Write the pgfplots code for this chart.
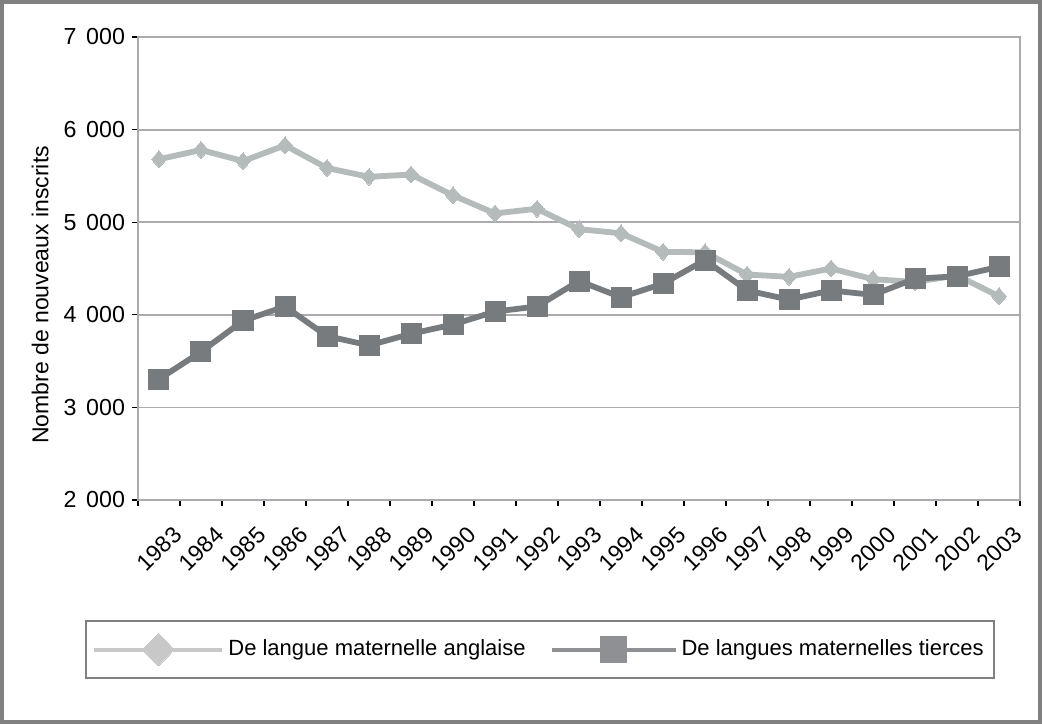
\documentclass[border=0pt]{standalone}
\usepackage{fontspec}
\setmainfont{Liberation Sans}
\usepackage{pgfplots}
\pgfplotsset{compat=1.18}
\definecolor{serA}{RGB}{181,186,186}
\definecolor{serB}{RGB}{120,123,126}
\definecolor{gridc}{RGB}{170,170,175}
\definecolor{framec}{RGB}{128,128,128}
\definecolor{legA}{RGB}{200,200,200}
\definecolor{legB}{RGB}{143,144,148}
\begin{document}
\begin{tikzpicture}
\useasboundingbox (-69pt,-112pt) rectangle (452pt,250pt);
\fill[white] (-69pt,-112pt) rectangle (452pt,250pt);
\draw[framec, line width=2pt] (-68pt,-111pt) rectangle (451pt,249pt);
\begin{axis}[
  scale only axis, width=441pt, height=231.5pt,
  xmin=-0.5, xmax=20.5, ymin=2000, ymax=7000,
  xtick={0,...,20},
  xticklabels={1983,1984,1985,1986,1987,1988,1989,1990,1991,1992,1993,1994,1995,1996,1997,1998,1999,2000,2001,2002,2003},
  minor xtick={-0.5,0.5,...,20.5},
  ytick={2000,3000,4000,5000,6000,7000},
  yticklabels={2\hspace{.42em}000,3\hspace{.42em}000,4\hspace{.42em}000,5\hspace{.42em}000,6\hspace{.42em}000,7\hspace{.42em}000},
  xtick pos=bottom, ytick pos=left,
  tick align=outside,
  major tick length=3pt, minor tick length=3pt,
  major x tick style={draw=none},
  minor x tick style={black, line width=0.6pt},
  major y tick style={black, line width=0.6pt},
  ymajorgrids, grid style={gridc, line width=0.9pt},
  axis line style={gridc, line width=1.2pt},
  yticklabel style={font=\fontsize{11.6}{13}\selectfont},
  xticklabel style={font=\fontsize{11.5}{13}\selectfont, rotate=45, anchor=north east, inner sep=1pt, yshift=-10pt, xshift=-1pt},
  ylabel={Nombre de nouveaux inscrits},
  ylabel style={at={(axis description cs:-0.111,0.443)}, anchor=center, font=\fontsize{11.5}{13}\selectfont},
  legend columns=2,
  legend style={at={(axis description cs:0.4558,-0.3229)}, anchor=center,
    draw=framec, line width=1pt, inner xsep=3pt, inner ysep=6pt,
    font=\fontsize{11}{13}\selectfont,
    /tikz/every even column/.append style={column sep=10pt}},
  clip=false,
]
\addplot[serA, line width=2.9pt, line join=round, mark=diamond*, mark size=4.2pt,
  mark options={xscale=1.2, solid, fill=serA, draw=serA, line width=0pt},
  legend image code/.code={\draw[legA, line width=2pt, mark=diamond*, mark size=8.2pt, mark options={xscale=1.3, fill=legA, draw=legA, line width=0pt}, mark repeat=2, mark phase=2] plot coordinates {(0pt,0pt) (32pt,0pt) (64pt,0pt)};}]
table {
x y
0 5680
1 5780
2 5660
3 5830
4 5585
5 5490
6 5515
7 5290
8 5095
9 5145
10 4925
11 4880
12 4680
13 4675
14 4435
15 4410
16 4500
17 4385
18 4355
19 4425
20 4200
};
\addlegendentry{De langue maternelle anglaise}
\addplot[serB, line width=2.9pt, line join=round, mark=square*, mark size=5pt,
  mark options={solid, fill=serB, draw=serB, line width=0pt},
  legend image code/.code={\draw[legB, line width=2pt, mark=square*, mark size=6.5pt, mark options={fill=legB, draw=legB, line width=0pt}, mark repeat=2, mark phase=2] plot coordinates {(0pt,0pt) (31pt,0pt) (62pt,0pt)};}]
table {
x y
0 3305
1 3600
2 3935
3 4090
4 3770
5 3670
6 3795
7 3895
8 4035
9 4090
10 4365
11 4190
12 4336
13 4591
14 4263
15 4164
16 4263
17 4215
18 4390
19 4416
20 4518
};
\addlegendentry{De langues maternelles tierces}
\end{axis}
\end{tikzpicture}
\end{document}
